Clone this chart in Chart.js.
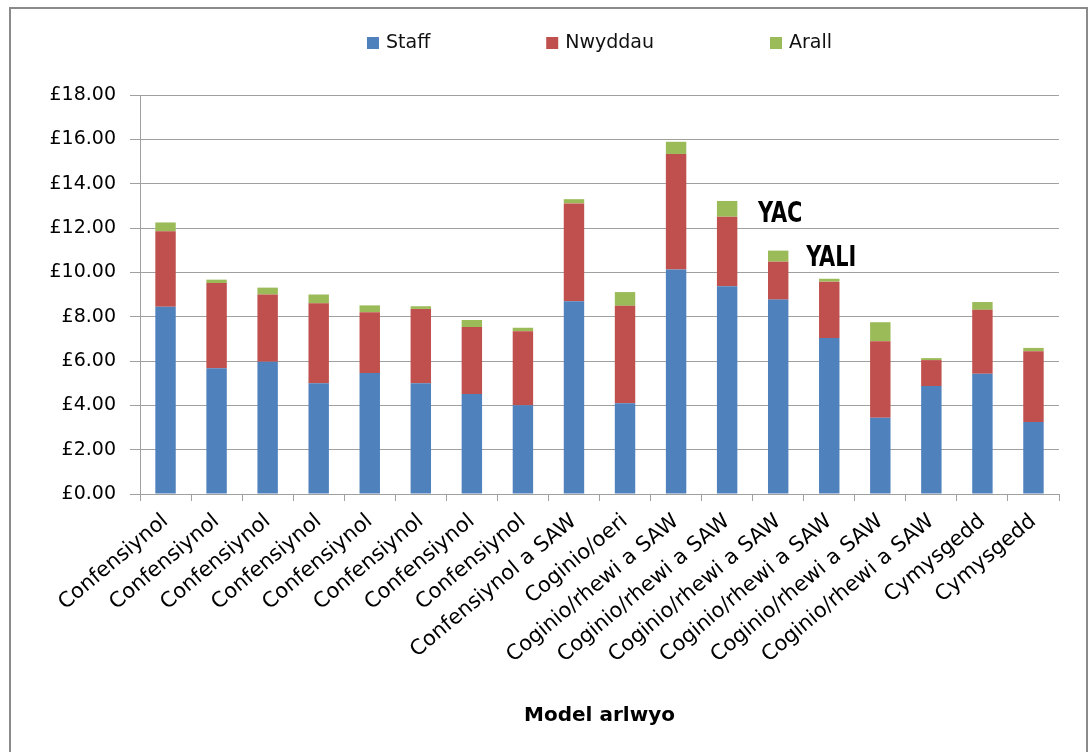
<!DOCTYPE html>
<html>
<head>
<meta charset="utf-8">
<script src="https://cdn.jsdelivr.net/npm/chart.js@4.4.0/dist/chart.umd.min.js"></script>
<style>
  html, body { margin: 0; padding: 0; background: #ffffff; }
  #wrap { position: relative; width: 1090px; height: 752px; overflow: hidden; }
  #c { position: absolute; left: 0; top: 0; }
  #frame { position: absolute; left: 9px; top: 7px; width: 1079px; height: 800px; border: 2px solid #8a8a8a; box-sizing: border-box; pointer-events: none; }
</style>
</head>
<body>
<div id="wrap">
  <canvas id="c" width="1090" height="752"></canvas>
  <div id="frame"></div>
</div>
<script>
const categories = [
  'Confensiynol', 'Confensiynol', 'Confensiynol', 'Confensiynol', 'Confensiynol',
  'Confensiynol', 'Confensiynol', 'Confensiynol', 'Confensiynol a SAW', 'Coginio/oeri',
  'Coginio/rhewi a SAW', 'Coginio/rhewi a SAW', 'Coginio/rhewi a SAW', 'Coginio/rhewi a SAW',
  'Coginio/rhewi a SAW', 'Coginio/rhewi a SAW', 'Cymysgedd', 'Cymysgedd'
];
const staff   = [8.45, 5.67, 5.97, 5.00, 5.46, 5.00, 4.51, 4.00, 8.69, 4.09, 10.13, 9.37, 8.77, 7.04, 3.44, 4.87, 5.43, 3.25];
const nwyddau = [3.40, 3.85, 3.03, 3.60, 2.74, 3.35, 3.02, 3.34, 4.42, 4.40, 5.21, 3.14, 1.71, 2.54, 3.45, 1.17, 2.88, 3.19];
const arall   = [0.40, 0.15, 0.31, 0.40, 0.31, 0.12, 0.32, 0.16, 0.19, 0.62, 0.55, 0.71, 0.50, 0.13, 0.86, 0.09, 0.35, 0.15];
const seriesNames = ['Staff', 'Nwyddau', 'Arall'];
const yTicks = [0, 2, 4, 6, 8, 10, 12, 14, 16, 18];
const xTitle = 'Model arlwyo';
// text notes placed over bars: label, category index, value where baseline sits
const noteLabels = ['YAC', 'YALI'];
const noteIndex  = [12, 13];
const noteValue  = [12.27, 10.3];

const colors = ['#4F81BD', '#C0504D', '#9BBB59'];
const FONT = "'DejaVu Sans', sans-serif";

const legendPlugin = {
  id: 'customLegend',
  afterDraw(chart) {
    const ctx = chart.ctx;
    const ca = chart.chartArea;
    ctx.save();
    ctx.font = '19px ' + FONT;
    const box = 12, gapBT = 7, gapItems = 116;
    const items = chart.data.datasets.map(d => ({ text: d.label, color: d.backgroundColor, w: ctx.measureText(d.label).width }));
    let total = 0;
    items.forEach((it, i) => { total += box + gapBT + it.w + (i < items.length - 1 ? gapItems : 0); });
    let x = (ca.left + ca.right) / 2 - total / 2;
    const yc = 43;
    items.forEach(it => {
      ctx.fillStyle = it.color;
      ctx.fillRect(x, yc - box / 2, box, box);
      x += box + gapBT;
      ctx.fillStyle = '#111';
      ctx.textBaseline = 'middle';
      ctx.textAlign = 'left';
      ctx.fillText(it.text, x, yc);
      x += it.w + gapItems;
    });
    ctx.restore();
  }
};

const notesPlugin = {
  id: 'notes',
  afterDatasetsDraw(chart) {
    const ctx = chart.ctx;
    const xs = chart.scales.x, ys = chart.scales.y;
    noteLabels.forEach((t, i) => {
      const px = xs.getPixelForValue(noteIndex[i]);
      const py = ys.getPixelForValue(noteValue[i]);
      ctx.save();
      ctx.fillStyle = '#000';
      ctx.textAlign = 'center';
      ctx.textBaseline = 'alphabetic';
      ctx.font = "bold 29px 'Liberation Sans Narrow', 'DejaVu Sans Condensed', 'DejaVu Sans', sans-serif";
      ctx.translate(px + 2, py);
      ctx.scale(0.8, 1);
      ctx.fillText(t, 0, 0);
      ctx.restore();
    });
  }
};

new Chart(document.getElementById('c'), {
  type: 'bar',
  data: {
    labels: categories,
    datasets: [
      { label: seriesNames[0], data: staff, backgroundColor: colors[0] },
      { label: seriesNames[1], data: nwyddau, backgroundColor: colors[1] },
      { label: seriesNames[2], data: arall, backgroundColor: colors[2] }
    ]
  },
  options: {
    responsive: false,
    animation: false,
    events: [],
    layout: { padding: { left: 0, right: 31, top: 95, bottom: 0 } },
    datasets: { bar: { barPercentage: 0.4, categoryPercentage: 1.0, borderWidth: 0 } },
    plugins: {
      legend: { display: false },
      tooltip: { enabled: false },
      title: { display: false }
    },
    scales: {
      x: {
        stacked: true,
        grid: { display: true, drawOnChartArea: false, drawTicks: true, tickLength: 7, color: '#a0a0a0', lineWidth: 1 },
        border: { display: true, color: '#a0a0a0', width: 1 },
        ticks: {
          color: '#000',
          font: { family: FONT, size: 21 },
          minRotation: 40, maxRotation: 40,
          autoSkip: false,
          padding: 8
        },
        title: {
          display: true,
          text: xTitle,
          color: '#000',
          font: { family: FONT, size: 20, weight: 'bold' },
          padding: { top: 24, bottom: 24 }
        },
        afterFit(scale) { scale.height = 752 - 494; }
      },
      y: {
        stacked: true,
        min: 0, max: 18,
        afterBuildTicks(scale) { scale.ticks = yTicks.map(v => ({ value: v })); },
        grid: { color: '#a0a0a0', lineWidth: 1, drawTicks: true, tickLength: 10 },
        border: { display: true, color: '#a0a0a0', width: 1 },
        ticks: {
          color: '#000',
          font: { family: FONT, size: 19 },
          padding: 14,
          callback: v => '£' + Number(v).toFixed(2)
        },
        afterFit(scale) { scale.width = 140; }
      }
    }
  },
  plugins: [legendPlugin, notesPlugin]
});
</script>
</body>
</html>
